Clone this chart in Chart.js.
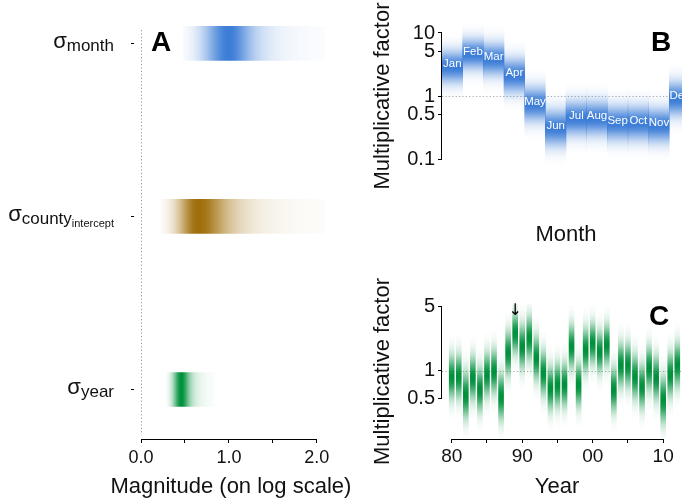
<!DOCTYPE html>
<html>
<head>
<meta charset="utf-8">
<script src="https://cdn.jsdelivr.net/npm/chart.js@4.4.0/dist/chart.umd.min.js"></script>
<style>
  html, body { margin: 0; padding: 0; background: #fff; overflow: hidden; }
  body { width: 682px; height: 502px; position: relative; }
  canvas { position: absolute; }
  #chartA { left: 0; top: 0; }
  #chartB { left: 360px; top: 0; }
  #chartC { left: 360px; top: 250px; }
</style>
</head>
<body>
<canvas id="chartA" width="360" height="502"></canvas>
<canvas id="chartB" width="340" height="250"></canvas>
<canvas id="chartC" width="340" height="252"></canvas>
<script>
var FONT = '"Liberation Sans", Arial, Helvetica, sans-serif';
Chart.defaults.font.family = FONT;
Chart.defaults.color = '#111';

// panel A - posterior of the variance components (magnitude, log scale)
var sigmaNames = ['month', 'county', 'year'];
var sigmaSubs = ['', 'intercept', ''];
var sigmaRows = [3, 2, 1];
var sigmaLo = [0.48, 0.23, 0.29];
var sigmaMode = [1.0, 0.65, 0.46];
var sigmaHi = [2.09, 2.09, 0.84];
var magTicks = [0, 0.5, 1, 1.5, 2];

// panel B - month effects
var months = ['Jan', 'Feb', 'Mar', 'Apr', 'May', 'Jun', 'Jul', 'Aug', 'Sep', 'Oct', 'Nov', 'Dec'];
var monthFactor = [2.9, 4.6, 3.8, 2.1, 0.74, 0.31, 0.44, 0.44, 0.37, 0.37, 0.34, 0.9];
var monthSpread = [0.17, 0.16, 0.17, 0.18, 0.18, 0.19, 0.18, 0.18, 0.18, 0.18, 0.18, 0.18];
var monthTicks = [0.1, 0.5, 1, 5, 10];

// panel C - year effects
var years = [1980, 1981, 1982, 1983, 1984, 1985, 1986, 1987, 1988, 1989, 1990,
             1991, 1992, 1993, 1994, 1995, 1996, 1997, 1998, 1999, 2000,
             2001, 2002, 2003, 2004, 2005, 2006, 2007, 2008, 2009, 2010, 2011, 2012];
var yearFactor = [0.85, 0.86, 0.54, 0.83, 0.62, 0.90, 0.98, 0.52, 1.55, 2.56, 1.83,
                  2.26, 1.37, 0.94, 0.64, 0.70, 0.70, 1.83, 0.70, 1.68, 1.99,
                  1.61, 1.91, 0.62, 1.15, 1.15, 0.86, 0.67, 1.06, 0.83, 0.48, 0.90, 1.15];
var yearSpread = [0.15, 0.15, 0.16, 0.15, 0.15, 0.15, 0.15, 0.16, 0.15, 0.14, 0.15,
                  0.15, 0.15, 0.15, 0.15, 0.15, 0.15, 0.15, 0.15, 0.15, 0.14,
                  0.14, 0.14, 0.15, 0.15, 0.15, 0.15, 0.15, 0.15, 0.15, 0.16, 0.15, 0.15];
var yearTicks = [1980, 1985, 1990, 1995, 2000, 2005, 2010];
var factorTicksC = [0.5, 1, 5];
var markedYear = 1989;

var blue = [60, 125, 215], brown = [160, 110, 10], green = [0, 145, 60];
var sigmaColors = [blue, brown, green];

function rgba(c, a) {
  return 'rgba(' + c[0] + ',' + c[1] + ',' + c[2] + ',' + a.toFixed(3) + ')';
}

// vertical density strip, gaussian on the log axis
function stripFill(factor, spread, col) {
  return function(ctx) {
    var chart = ctx.chart, i = ctx.dataIndex;
    if (!chart.chartArea || i === undefined) return 'rgba(0,0,0,0)';
    var y = chart.scales.y;
    var top = y.getPixelForValue(factor[i] * Math.pow(10, 3 * spread[i]));
    var bot = y.getPixelForValue(factor[i] * Math.pow(10, -3 * spread[i]));
    var g = chart.ctx.createLinearGradient(0, top, 0, bot);
    for (var k = 0; k <= 40; k++) {
      var z = -3 + 6 * k / 40;
      g.addColorStop(k / 40, rgba(col, Math.exp(-0.5 * z * z)));
    }
    return g;
  };
}

// horizontal skewed strip for the sigmas
function sigmaFill(ctx) {
  var chart = ctx.chart, i = ctx.dataIndex;
  if (!chart.chartArea || i === undefined) return 'rgba(0,0,0,0)';
  var x = chart.scales.x;
  var lo = sigmaLo[i], mo = sigmaMode[i], hi = sigmaHi[i];
  var g = chart.ctx.createLinearGradient(x.getPixelForValue(lo), 0, x.getPixelForValue(hi), 0);
  var sl = (mo - lo) / 2.6, sr = (hi - mo) / 3.5;
  for (var k = 0; k <= 60; k++) {
    var v = lo + (hi - lo) * k / 60, a;
    if (v < mo) a = Math.exp(-0.5 * Math.pow((mo - v) / sl, 2));
    else a = Math.pow(1 + Math.pow((v - mo) / sr, 2), -1.5);
    g.addColorStop(k / 60, rgba(sigmaColors[i], a));
  }
  g.addColorStop((mo - lo) / (hi - lo), rgba(sigmaColors[i], 1));
  return g;
}

function dotted(c, x0, y0, x1, y1, col) {
  c.save();
  c.strokeStyle = col; c.lineWidth = 1; c.setLineDash([1.2, 2.2]);
  c.beginPath(); c.moveTo(x0, y0); c.lineTo(x1, y1); c.stroke();
  c.restore();
}

function segment(c, x0, y0, x1, y1) {
  c.save();
  c.strokeStyle = '#000'; c.lineWidth = 1;
  c.beginPath(); c.moveTo(x0, y0); c.lineTo(x1, y1); c.stroke();
  c.restore();
}

function letter(c, txt, x, y) {
  c.save();
  c.font = 'bold 28px ' + FONT;
  c.fillStyle = '#000'; c.textAlign = 'center'; c.textBaseline = 'middle';
  c.fillText(txt, x, y);
  c.restore();
}

var panelA = {
  id: 'panelA',
  beforeDatasetsDraw: function(chart) {
    var a = chart.chartArea, x0 = Math.round(chart.scales.x.getPixelForValue(0)) + 0.5;
    dotted(chart.ctx, x0, a.top + 4, x0, a.bottom - 4, '#999');
  },
  afterDraw: function(chart) {
    var c = chart.ctx, a = chart.chartArea, x = chart.scales.x, y = chart.scales.y;
    segment(c, x.getPixelForValue(magTicks[0]), a.bottom + 0.5,
            x.getPixelForValue(magTicks[magTicks.length - 1]), a.bottom + 0.5);
    c.save();
    c.fillStyle = '#111';
    // axis title, drawn here so it is not squeezed to the plot width
    c.font = '22px ' + FONT; c.textAlign = 'center'; c.textBaseline = 'middle';
    c.fillText('Magnitude (on log scale)', x.getPixelForValue(1) + 2, a.bottom + 48);
    sigmaNames.forEach(function(name, i) {
      var py = y.getPixelForValue(sigmaRows[i]);
      c.font = '22px ' + FONT; var w0 = c.measureText('σ').width;
      c.font = '17px ' + FONT; var w1 = c.measureText(name).width;
      c.font = '11px ' + FONT; var w2 = sigmaSubs[i] ? c.measureText(sigmaSubs[i]).width : 0;
      var xs = a.left - 27 - w0 - w1 - w2;
      c.textAlign = 'left'; c.textBaseline = 'alphabetic';
      c.font = '22px ' + FONT; c.fillText('σ', xs, py + 4.5);
      c.font = '17px ' + FONT; c.fillText(name, xs + w0, py + 7.5);
      if (sigmaSubs[i]) { c.font = '11px ' + FONT; c.fillText(sigmaSubs[i], xs + w0 + w1, py + 10.5); }
      segment(c, a.left - 10, Math.round(py) + 0.5, a.left - 7, Math.round(py) + 0.5);
    });
    c.restore();
    letter(c, 'A', a.left + 20, y.getPixelForValue(sigmaRows[0]));
  }
};

var panelB = {
  id: 'panelB',
  beforeDatasetsDraw: function(chart) {
    var a = chart.chartArea, py = Math.round(chart.scales.y.getPixelForValue(1)) + 0.5;
    dotted(chart.ctx, a.left, py, chart.width, py, '#aaa');
  },
  afterDatasetsDraw: function(chart) {
    var c = chart.ctx, x = chart.scales.x, y = chart.scales.y;
    c.save();
    c.font = '11.5px ' + FONT; c.fillStyle = '#fff';
    c.textAlign = 'center'; c.textBaseline = 'alphabetic';
    months.forEach(function(m, i) {
      c.fillText(m, x.getPixelForValue(i), y.getPixelForValue(monthFactor[i]) + 0.5);
    });
    c.restore();
  },
  afterDraw: function(chart) {
    var c = chart.ctx, a = chart.chartArea, y = chart.scales.y;
    segment(c, a.left - 0.5, y.getPixelForValue(monthTicks[0]),
            a.left - 0.5, y.getPixelForValue(monthTicks[monthTicks.length - 1]));
    letter(c, 'B', a.right - 29, a.top + 23);
  }
};

var panelC = {
  id: 'panelC',
  beforeDatasetsDraw: function(chart) {
    var a = chart.chartArea, py = Math.round(chart.scales.y.getPixelForValue(1)) + 0.5;
    dotted(chart.ctx, a.left, py, chart.width, py, '#aaa');
  },
  afterDraw: function(chart) {
    var c = chart.ctx, a = chart.chartArea, x = chart.scales.x, y = chart.scales.y;
    segment(c, a.left - 0.5, y.getPixelForValue(factorTicksC[0]),
            a.left - 0.5, y.getPixelForValue(factorTicksC[factorTicksC.length - 1]));
    segment(c, x.getPixelForValue(yearTicks[0]), a.bottom + 0.5,
            x.getPixelForValue(yearTicks[yearTicks.length - 1]), a.bottom + 0.5);
    c.save();
    c.font = '16px "DejaVu Sans", sans-serif'; c.fillStyle = '#000';
    c.textAlign = 'center'; c.textBaseline = 'middle';
    c.fillText('↓', x.getPixelForValue(markedYear), a.top + 7);
    c.restore();
    letter(c, 'C', a.right - 13, a.top + 13);
  }
};

function axisGrid() {
  return { drawOnChartArea: false, drawTicks: true, tickLength: 4, color: '#000', lineWidth: 1 };
}

new Chart(document.getElementById('chartA'), {
  type: 'bar',
  data: {
    datasets: [{
      data: sigmaNames.map(function(n, i) { return { x: [sigmaLo[i], sigmaHi[i]], y: sigmaRows[i] }; }),
      backgroundColor: sigmaFill,
      borderWidth: 0,
      barThickness: 34
    }]
  },
  options: {
    indexAxis: 'y',
    responsive: false,
    animation: false,
    events: [],
    layout: { padding: { top: 26, left: 141, right: 30, bottom: 0 } },
    plugins: { legend: { display: false }, tooltip: { enabled: false } },
    scales: {
      x: {
        type: 'linear', min: 0, max: 2.15,
        afterBuildTicks: function(s) { s.ticks = magTicks.map(function(v) { return { value: v }; }); },
        afterFit: function(s) { s.height = 63; },
        border: { display: false },
        grid: axisGrid(),
        ticks: {
          font: { size: 18 }, color: '#111', padding: 4, maxRotation: 0, autoSkip: false,
          callback: function(v) { return Number.isInteger(v) ? v.toFixed(1) : ''; }
        }
      },
      y: { type: 'linear', min: 0.714, max: 3.1, offset: false, display: false }
    }
  },
  plugins: [panelA]
});

new Chart(document.getElementById('chartB'), {
  type: 'bar',
  data: {
    labels: months,
    datasets: [{
      data: months.map(function(m, i) {
        return [monthFactor[i] * Math.pow(10, -3 * monthSpread[i]), monthFactor[i] * Math.pow(10, 3 * monthSpread[i])];
      }),
      backgroundColor: stripFill(monthFactor, monthSpread, blue),
      borderWidth: 0,
      barPercentage: 1,
      categoryPercentage: 1
    }]
  },
  options: {
    responsive: false,
    animation: false,
    events: [],
    layout: { padding: { top: 20, left: 6, right: 10, bottom: 0 } },
    plugins: { legend: { display: false }, tooltip: { enabled: false } },
    scales: {
      x: {
        type: 'category',
        afterFit: function(s) { s.height = 78; },
        grid: { display: false }, border: { display: false }, ticks: { display: false },
        title: { display: true, text: 'Month', font: { size: 22 }, color: '#111', padding: { top: 0, bottom: 2 } }
      },
      y: {
        type: 'logarithmic', min: 0.0622, max: 16.08,
        afterBuildTicks: function(s) { s.ticks = monthTicks.map(function(v) { return { value: v }; }); },
        afterFit: function(s) { s.width = 76; },
        border: { display: false },
        grid: axisGrid(),
        ticks: { font: { size: 20 }, color: '#111', padding: 3, callback: function(v) { return String(v); } },
        title: { display: true, text: 'Multiplicative factor', font: { size: 22 }, color: '#111', padding: { top: 4, bottom: 0 } }
      }
    }
  },
  plugins: [panelB]
});

new Chart(document.getElementById('chartC'), {
  type: 'bar',
  data: {
    datasets: [{
      data: years.map(function(yr, i) {
        return { x: yr, y: [yearFactor[i] * Math.pow(10, -3 * yearSpread[i]), yearFactor[i] * Math.pow(10, 3 * yearSpread[i])] };
      }),
      backgroundColor: stripFill(yearFactor, yearSpread, green),
      borderWidth: 0,
      barThickness: 5,
      clip: { left: 0, top: 0, right: false, bottom: 0 }
    }]
  },
  options: {
    responsive: false,
    animation: false,
    events: [],
    layout: { padding: { top: 54, left: 6, right: 28, bottom: 0 } },
    plugins: { legend: { display: false }, tooltip: { enabled: false } },
    scales: {
      x: {
        type: 'linear', min: 1978.62, max: 2011.25, offset: false,
        afterBuildTicks: function(s) { s.ticks = yearTicks.map(function(v) { return { value: v }; }); },
        afterFit: function(s) { s.height = 63; },
        border: { display: false },
        grid: Object.assign(axisGrid(), { offset: false }),
        ticks: {
          font: { size: 19 }, color: '#111', padding: 2, maxRotation: 0, autoSkip: false,
          callback: function(v) { return v % 10 === 0 ? String(v).slice(2) : ''; }
        },
        title: { display: true, text: 'Year', font: { size: 22 }, color: '#111', padding: { top: 0, bottom: 2 } }
      },
      y: {
        type: 'logarithmic', min: 0.1796, max: 5.35,
        afterBuildTicks: function(s) { s.ticks = factorTicksC.map(function(v) { return { value: v }; }); },
        afterFit: function(s) { s.width = 76; },
        border: { display: false },
        grid: axisGrid(),
        ticks: { font: { size: 20 }, color: '#111', padding: 3, callback: function(v) { return String(v); } },
        title: { display: true, text: 'Multiplicative factor', font: { size: 22 }, color: '#111', padding: { top: 4, bottom: 0 } }
      }
    }
  },
  plugins: [panelC]
});
</script>
</body>
</html>
